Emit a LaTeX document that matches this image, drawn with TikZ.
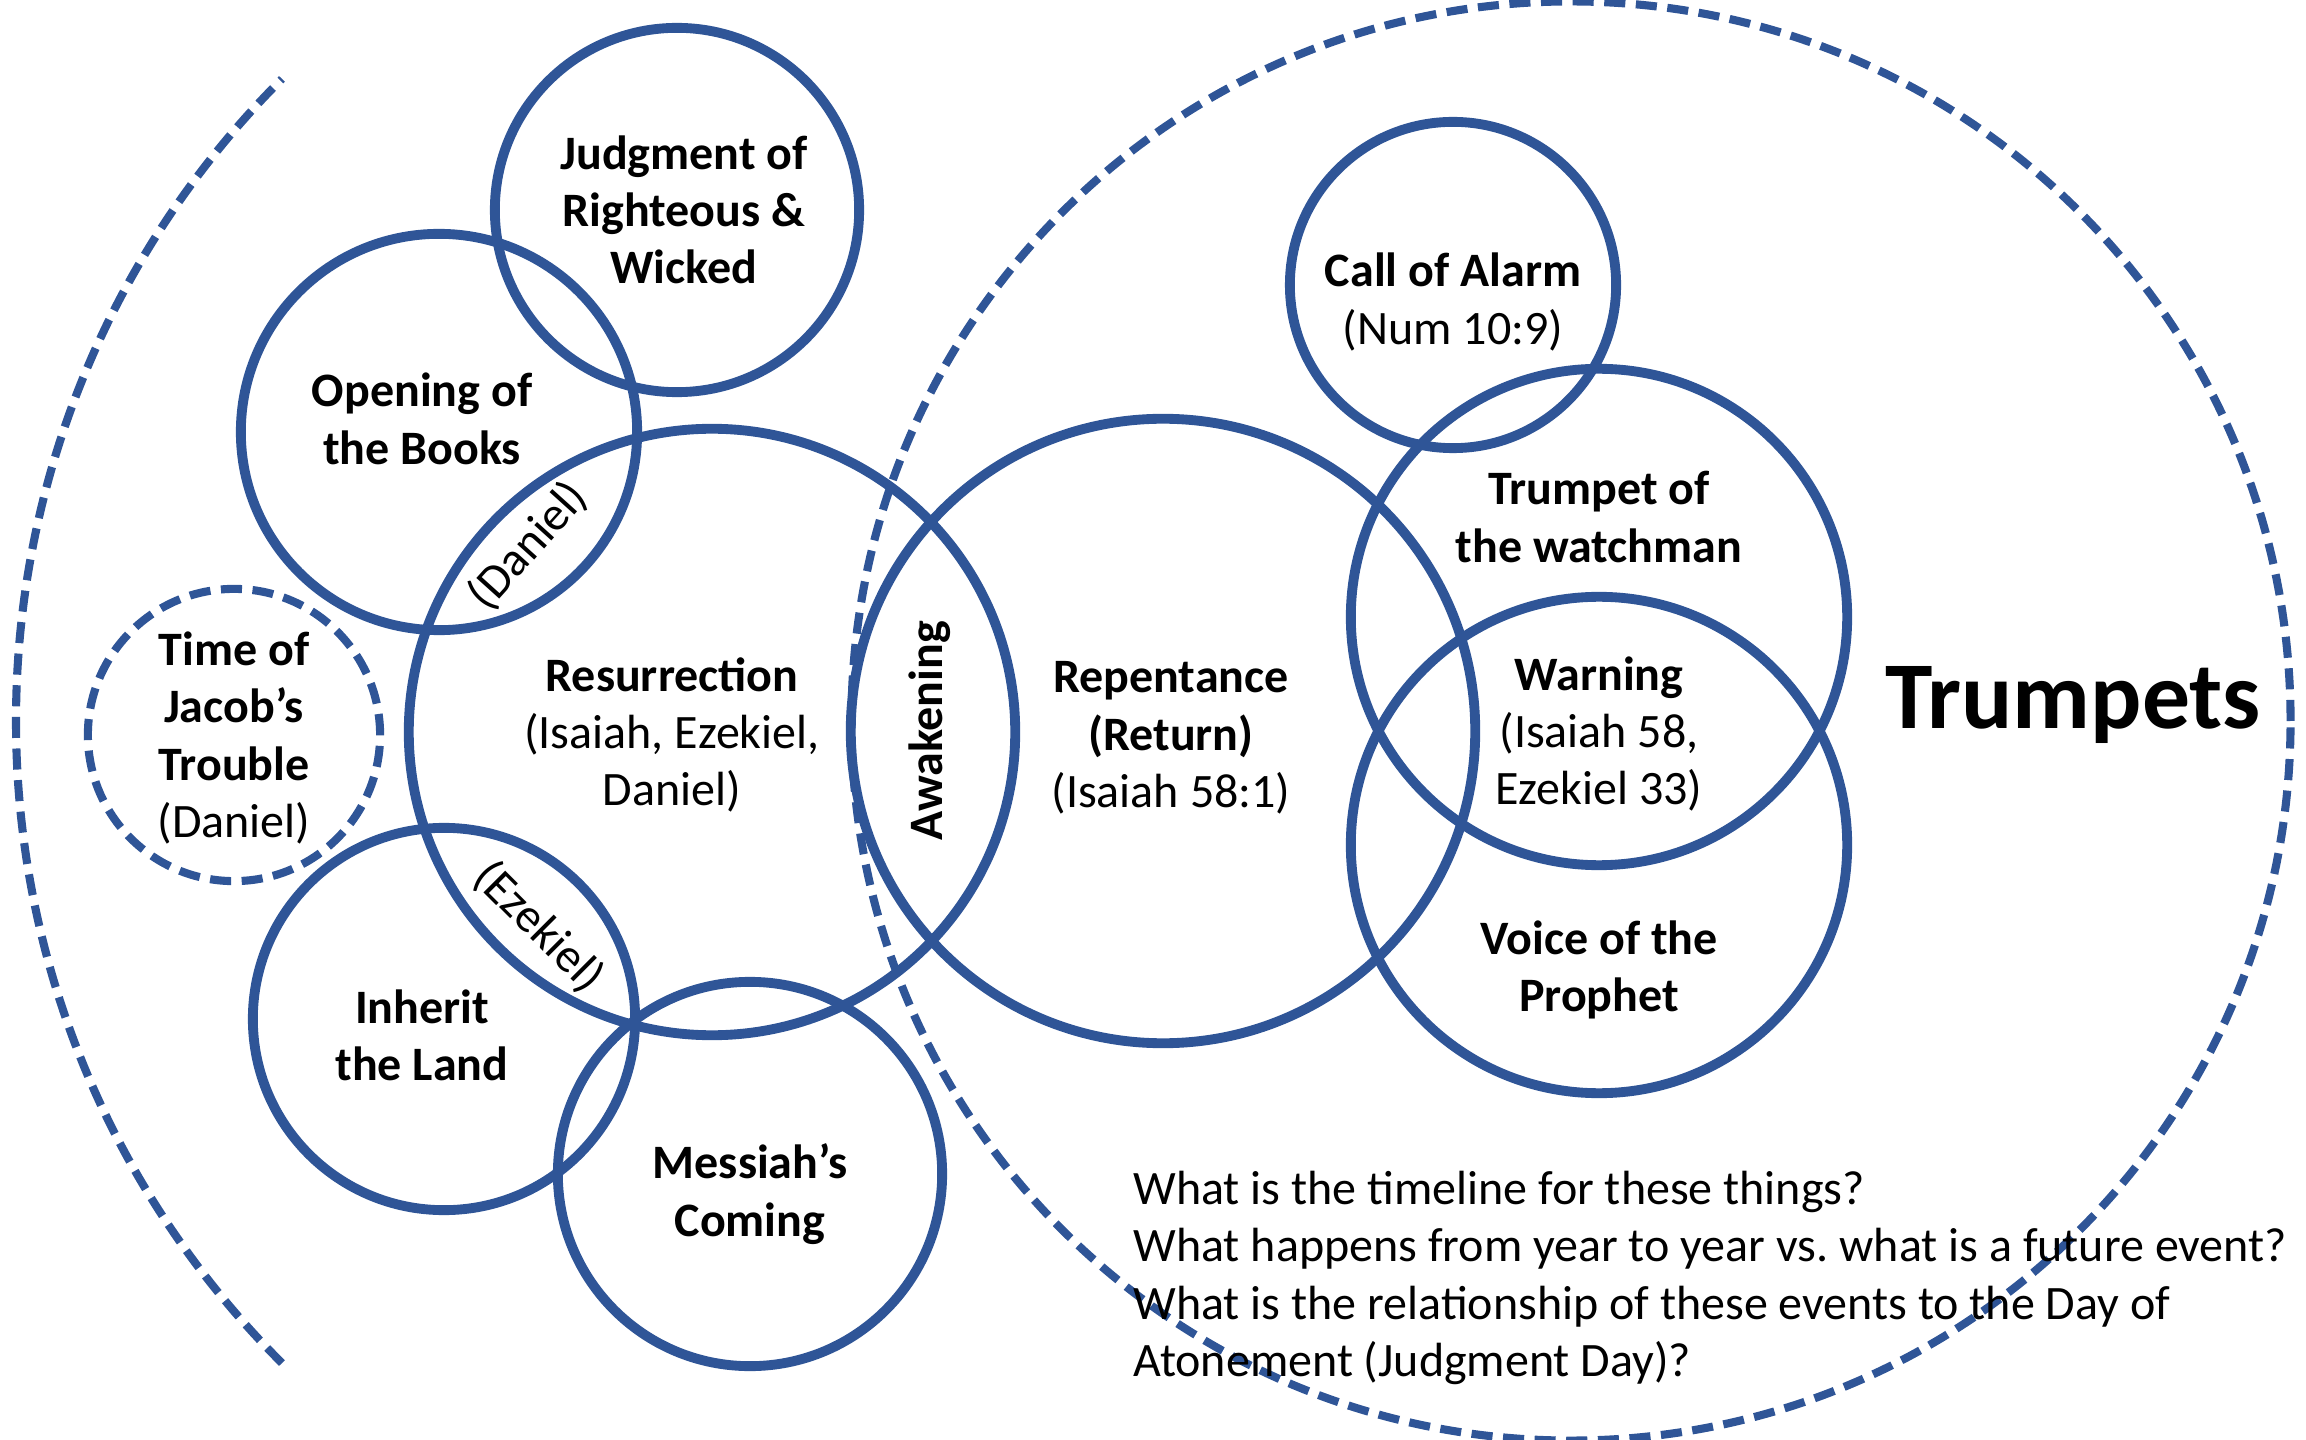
\documentclass[tikz,border=0pt]{standalone}
\usepackage{fontspec}
\setmainfont{Carlito}
\definecolor{ringblue}{RGB}{47,85,151}
\begin{document}
\begin{tikzpicture}[
      x=0.01cm, y=-0.01cm,
      ring/.style={circle, draw=ringblue, line width=2.8pt, inner sep=0pt},
      dashring/.style={ring, line width=2.3pt, dash pattern=on 6pt off 3pt},
      rad/.style={minimum size=#1*0.02cm},
      lbl/.style={align=center, font=\fontsize{13.65}{16.3}\selectfont},
      blbl/.style={lbl, font=\fontsize{13.65}{16.3}\selectfont\bfseries},
    ]
    \useasboundingbox (0,0) rectangle (2306,1440);

    % -------------------------------------------------------
    %  Outer dashed rings
    % -------------------------------------------------------
    \node[dashring, rad=719] (trump) at (1571,721) {};
    \coordinate (leftc) at (924,721);
    \draw[ringblue, line width=2.3pt, dash pattern=on 6pt off 3pt]
      (leftc) ++(135:908) arc[start angle=135, end angle=225, radius=908];

    % -------------------------------------------------------
    %  Left cluster
    % -------------------------------------------------------
    \node[ring, rad=182] (judg) at (677,210) {};
    \node[ring, rad=198] (books) at (439,432) {};
    \node[ring, rad=303] (resur) at (712,732) {};
    \node[dashring, rad=146] (jacob) at (234,735) {};
    \node[ring, rad=191] (land) at (444,1019) {};
    \node[ring, rad=192] (mess) at (750,1174) {};

    \node[blbl] (judgT) at (684,210) {Judgment of\\Righteous \&\\Wicked};
    \node[blbl] (booksT) at (422,419) {Opening of\\the Books};
    \node[lbl, rotate=48] (danT) at (528,546) {(Daniel)};
    \node[lbl] (jacobT) at (234,738) {\textbf{Time of}\\\textbf{Jacob’s}\\\textbf{Trouble}\\(Daniel)};
    \node[lbl] (resurT) at (672,735) {\textbf{Resurrection}\\(Isaiah, Ezekiel,\\Daniel)};
    \node[lbl, rotate=-45] (ezeT) at (539,927) {(Ezekiel)};
    \node[blbl] (landT) at (422,1035) {Inherit\\the Land};
    \node[blbl] (messT) at (750,1194) {Messiah’s\\Coming};

    % -------------------------------------------------------
    %  Right cluster
    % -------------------------------------------------------
    \node[ring, rad=312] (repent) at (1163,731) {};
    \node[ring, rad=163] (alarm) at (1453,285) {};
    \node[ring, rad=248] (watch) at (1599,617) {};
    \node[ring, rad=248] (voice) at (1599,845) {};

    \node[blbl, rotate=90] (awakeT) at (930,731) {Awakening};
    \node[lbl] (repentT) at (1171,738) {\textbf{Repentance}\\\textbf{(Return)}\\(Isaiah 58:1)};
    \node[lbl] (alarmT) at (1453,302) {\textbf{Call of Alarm}\\(Num 10:9)};
    \node[blbl] (watchT) at (1599,517) {Trumpet of\\the watchman};
    \node[lbl] (warnT) at (1599,734) {\textbf{Warning}\\(Isaiah 58,\\Ezekiel 33)};
    \node[blbl] (voiceT) at (1599,970) {Voice of the\\Prophet};

    \node[font=\fontsize{27.2}{32}\selectfont\bfseries] (trumpT) at (2073,705) {Trumpets};

    % Questions
    \node[lbl, align=left, anchor=west] (askT) at (1121,1278)
      {What is the timeline for these things?\\
       What happens from year to year vs.\ what is a future event?\\
       What is the relationship of these events to the Day of\\
       Atonement (Judgment Day)?};
  \end{tikzpicture}
\end{document}
